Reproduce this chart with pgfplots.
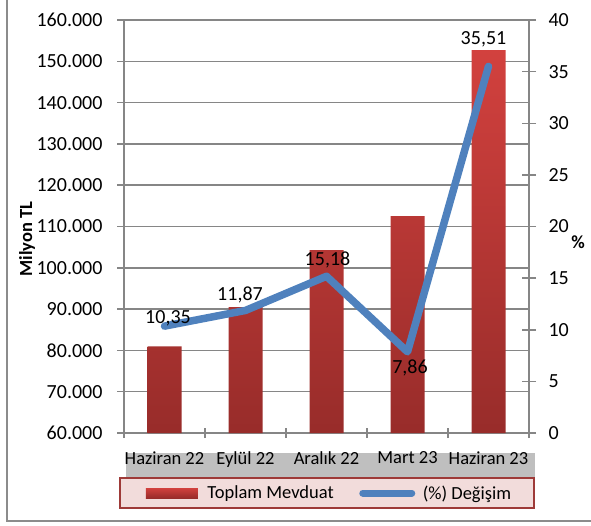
\documentclass[border=0pt]{standalone}
\usepackage{pgfplots}
\pgfplotsset{compat=1.18}
\usepackage{pgfplotstable}
\usepackage{fontspec}
\setmainfont{Carlito}
\definecolor{gridgray}{HTML}{868686}
\definecolor{bartop}{HTML}{D2413E}
\definecolor{barbot}{HTML}{982C2A}
\definecolor{lineblue}{HTML}{4F81BD}
\definecolor{legfill}{HTML}{F2DCDB}
\definecolor{legdraw}{HTML}{9E3A38}
\definecolor{framegray}{HTML}{8C8C8C}
\newcommand{\lfont}{\fontsize{18.5}{22}\selectfont}
\newcommand{\nfont}{\fontsize{20}{24}\selectfont}
\newcommand{\legspace}[2]{\pgfpathmoveto{\pgfpoint{#1}{0pt}}\pgfpathlineto{\pgfpoint{#2}{0pt}}\pgfusepath{discard}}

\pgfplotstableread{
x y
0 81000
1 90500
2 104300
3 112500
4 152700
}\bars

\pgfplotstableread{
x y lab dx dy
0 10.35 10,35 3.5 8
1 11.87 11,87 -5.5 15
2 15.18 15,18 1 16
3 7.86 7,86 2.5 -16
4 35.51 35,51 -5 27
}\pct

\begin{document}
\begin{tikzpicture}[x=1pt,y=1pt]
\useasboundingbox (0,0) rectangle (591,525);
\draw[framegray, line width=1.5pt] (7,530) -- (7,4) -- (600,4);
\fill[black, opacity=0.25] (125.5,38.5) rectangle (535,72.5);
\begin{axis}[at={(124pt,92pt)}, anchor=south west, width=405pt, height=413pt, scale only axis,
  xmin=-0.5, xmax=4.5, ymin=0, ymax=100000,
  axis x line*=bottom, axis y line*=left,
  axis line style={gridgray, line width=1.5pt},
  xtick={0,1,2,3,4},
  xticklabels={Haziran 22,Eylül 22,Aralık 22,Mart 23,Haziran 23},
  major x tick style={draw=none},
  minor xtick={-0.5,0.5,1.5,2.5,3.5,4.5},
  minor x tick style={gridgray, line width=1.5pt},
  minor tick length=10pt,
  ytick={0,10000,20000,30000,40000,50000,60000,70000,80000,90000,100000},
  yticklabels={60.000,70.000,80.000,90.000,100.000,110.000,120.000,130.000,140.000,150.000,160.000},
  scaled y ticks=false,
  tick align=center, major tick length=14pt,
  ytick style={gridgray, line width=1.5pt},
  ymajorgrids, grid style={gridgray, line width=1.5pt},
  yticklabel style={font=\nfont, anchor=east, xshift=-11pt},
  xticklabel style={font=\lfont, anchor=north, yshift=-8pt},
  ylabel={Milyon TL},
  ylabel style={font=\bfseries\lfont, at={(axis description cs:-0.2395,0.4697)}, anchor=center},
]
\addplot[ybar, bar width=34pt, bar shift=0pt, draw=none, top color=bartop, bottom color=barbot]
  table[x=x, y expr=\thisrow{y}-60000]{\bars};
\end{axis}
\begin{axis}[at={(124pt,92pt)}, anchor=south west, width=405pt, height=413pt, scale only axis,
  xmin=-0.5, xmax=4.5, ymin=0, ymax=40,
  axis x line=none, axis y line*=right,
  axis line style={gridgray, line width=1.5pt},
  ytick={0,5,10,15,20,25,30,35,40},
  yticklabels={0,5,10,15,20,25,30,35,40},
  tick align=center, major tick length=14pt,
  ytick style={gridgray, line width=1.5pt},
  yticklabel style={font=\nfont, anchor=west, xshift=9pt},
  ylabel={\%},
  ylabel style={font=\bfseries\lfont, at={(axis description cs:1.121,0.4625)}, anchor=center, rotate=-90},
  legend columns=2,
  legend style={at={(axis description cs:0.502,-0.1453)}, anchor=center,
    draw=legdraw, line width=2pt, fill=legfill,
    font=\lfont, inner xsep=19.5pt, inner ysep=5pt,
    nodes={inner xsep=3.5pt, inner ysep=2pt},
    /tikz/every even column/.append style={column sep=22pt}},
]
\addlegendimage{legend image code/.code={\legspace{0pt}{64pt}\path[draw=none, top color=bartop, bottom color=barbot] (6pt,-5pt) rectangle (58pt,5pt);}}
\addlegendentry{Toplam Mevduat}
\addplot[lineblue, line width=7.5pt, line cap=round, line join=round,
  nodes near coords, point meta=explicit symbolic,
  visualization depends on={\thisrow{dx} \as \dx},
  visualization depends on={\thisrow{dy} \as \dy},
  every node near coord/.append style={text=black, font=\nfont, anchor=center, xshift=\dx pt, yshift=\dy pt},
  legend image code/.code={\legspace{0pt}{60pt}\draw[lineblue, line width=7pt, line cap=round] (3.5pt,0pt) -- (52.5pt,0pt);}]
  table[x=x, y=y, meta=lab]{\pct};
\addlegendentry{(\%) Değişim}
\end{axis}
\end{tikzpicture}
\end{document}
